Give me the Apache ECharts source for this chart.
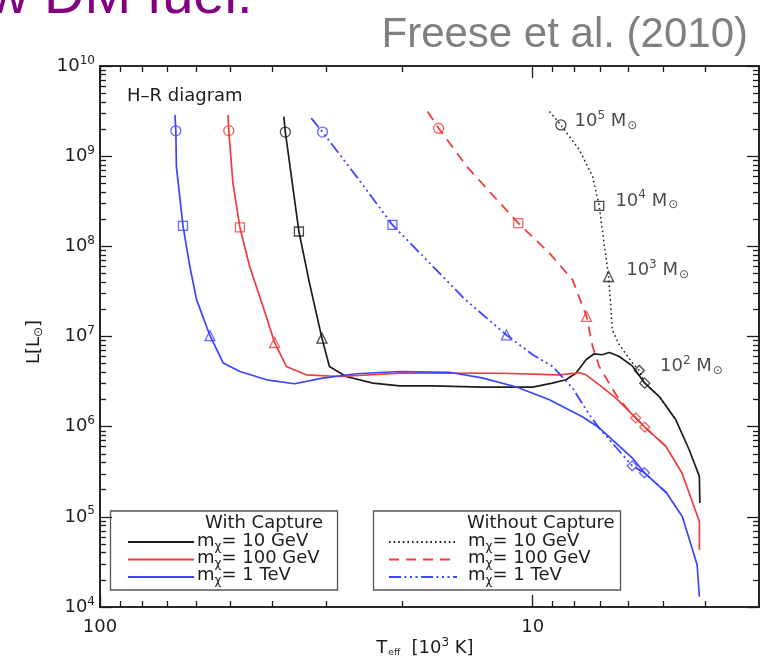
<!DOCTYPE html>
<html>
<head>
<meta charset="utf-8">
<script src="https://cdn.jsdelivr.net/npm/echarts@6/dist/echarts.min.js"></script>
<style>
  html, body { margin: 0; padding: 0; background: #fff; }
  #chart { width: 767px; height: 662px; }
</style>
</head>
<body>
<div id="chart"></div>
<script>
// Evolutionary tracks of dark stars: [Teff (10^3 K), L (L_sun)]
// Solid: with capture; broken: without capture.
const capBlack = [[37.6,2.75e9],[37.3,1.85e9],[34.7,1.46e8],[32.8,3.91e7],[30.7,9.6e6],[29.5,4.65e6],[27.0,3.60e6],[23.4,3.04e6],[20.3,2.84e6],[17.0,2.84e6],[13.1,2.75e6],[10.0,2.75e6],[9.01,3.04e6],[8.38,3.31e6],[7.94,3.93e6],[7.53,5.52e6],[7.21,6.43e6],[6.91,6.27e6],[6.65,6.65e6],[6.31,6.0e6],[5.89,4.73e6],[5.51,3.04e6],[5.10,2.16e6],[4.67,1.19e6],[4.35,5.55e5],[4.12,2.81e5],[4.11,1.42e5]];
const capRed = [[50.6,2.87e9],[50.4,1.92e9],[49.3,5.02e8],[47.5,1.62e8],[45.1,5.97e7],[42.0,2.15e7],[39.5,8.58e6],[37.1,4.65e6],[33.4,3.76e6],[27.9,3.60e6],[20.3,3.93e6],[11.9,3.91e6],[8.68,3.76e6],[7.80,3.96e6],[7.53,3.76e6],[7.02,2.91e6],[6.42,2.07e6],[5.78,1.25e6],[5.51,9.9e5],[4.92,6.03e5],[4.52,3.06e5],[4.12,8.89e4],[4.12,4.32e4]];
const capBlue = [[67.1,2.87e9],[66.8,1.91e9],[66.6,7.67e8],[64.3,1.69e8],[62.0,5.97e7],[59.8,2.55e7],[55.7,1.02e7],[51.9,5.07e6],[47.5,4.09e6],[41.2,3.31e6],[35.5,2.99e6],[30.6,3.46e6],[25.6,3.86e6],[20.3,4.09e6],[15.6,4.01e6],[13.1,3.48e6],[10.9,2.75e6],[9.15,1.99e6],[7.68,1.29e6],[7.02,9.72e5],[5.89,4.52e5],[5.52,3.08e5],[4.91,1.85e5],[4.51,1.0e5],[4.17,2.94e4],[4.12,1.30e4]];
const noCapBlack = [[9.15,3.12e9],[8.61,2.22e9],[7.80,1.17e9],[7.27,5.94e8],[7.02,2.81e8],[6.89,1.40e8],[6.68,4.63e7],[6.60,2.15e7],[6.55,1.19e7],[6.31,8.09e6],[5.88,5.07e6],[5.67,4.20e6],[5.51,3.04e6],[5.10,2.16e6],[4.67,1.19e6]];
const noCapRed = [[17.5,3.12e9],[16.5,2.04e9],[14.2,7.67e8],[11.9,3.01e8],[10.8,1.81e8],[9.15,8.41e7],[8.09,4.25e7],[7.51,1.67e7],[7.27,7.74e6],[7.02,4.65e6],[6.42,2.26e6],[5.98,1.47e6],[5.78,1.25e6],[5.51,9.9e5],[4.92,6.03e5]];
const noCapBlue = [[32.5,2.64e9],[30.6,1.85e9],[25.4,5.74e8],[21.1,1.73e8],[17.0,5.97e7],[14.3,2.55e7],[11.5,1.04e7],[10.0,6.27e6],[9.00,4.65e6],[8.09,2.68e6],[7.40,1.36e6],[7.02,9.64e5],[5.89,3.68e5],[5.52,3.08e5],[4.91,1.85e5]];

// Stellar mass reached along each track: 10^5, 10^4, 10^3, 10^2 M_sun
const massExponents = [5, 4, 3, 2];
const capBlackMarks = [[37.3,1.85e9],[34.7,1.46e8],[30.7,9.6e6],[5.51,3.04e6]];
const capRedMarks = [[50.4,1.92e9],[47.5,1.62e8],[39.5,8.58e6],[5.51,9.9e5]];
const capBlueMarks = [[66.8,1.91e9],[64.3,1.69e8],[55.7,1.02e7],[5.52,3.08e5]];
const noCapBlackMarks = [[8.61,2.22e9],[7.02,2.81e8],[6.68,4.63e7],[5.67,4.20e6]];
const noCapRedMarks = [[16.5,2.04e9],[10.8,1.81e8],[7.51,1.67e7],[5.78,1.25e6]];
const noCapBlueMarks = [[30.6,1.85e9],[21.1,1.73e8],[11.5,1.04e7],[5.89,3.68e5]];

// Axis ranges and ticks
const tempRange = [3, 100];
const lumRange = [1e4, 1e10];
const tempLabels = [10, 100];
const tempMinor = [4, 5, 6, 7, 8, 9, 20, 30, 40, 50, 60, 70, 80, 90];
const lumDecades = [4, 5, 6, 7, 8, 9, 10];
const lumMinor = [];
for (let d = 4; d < 10; d++) for (let m = 2; m <= 9; m++) lumMinor.push(m * Math.pow(10, d));

const legendEntries = ['10 GeV', '100 GeV', '1 TeV'];

const FONT = 'DejaVu Sans';
const INK = '#1c1c1c';
const RED = '#f03c3c';
const BLUE = '#3c44ff';
const lg = Math.log10;

const DOTTED = [1.6, 3];
const DASHED = [10, 7];
const DASHDOT3 = [12, 3.5, 2, 3.5, 2, 3.5, 2, 3.5];
const stageSymbols = ['circle', 'rect', 'triangle', 'diamond'];
const MAJOR_LEN = 12, MINOR_LEN = 6;

const chart = echarts.init(document.getElementById('chart'), null, { renderer: 'canvas' });

// Frame axes in log10 space: frame lines, decade labels and the logarithmic tick marks.
function tempFrameAxis(position, values, len, withLabels) {
  return {
    type: 'value', gridIndex: 0, position,
    min: lg(tempRange[0]), max: lg(tempRange[1]), inverse: true,
    axisLine: { show: true, onZero: false, lineStyle: { color: INK, width: 1.6 } },
    axisTick: { show: true, inside: true, length: len, customValues: values.map(lg),
                lineStyle: { color: INK, width: 1.3 } },
    axisLabel: withLabels ? {
      show: true, customValues: tempLabels.map(lg), margin: 11,
      formatter: v => String(Math.round(Math.pow(10, v))),
      color: INK, fontFamily: FONT, fontSize: 18
    } : { show: false },
    splitLine: { show: false }
  };
}
function lumFrameAxis(position, values, len, withLabels) {
  return {
    type: 'value', gridIndex: 0, position,
    min: lg(lumRange[0]), max: lg(lumRange[1]),
    axisLine: { show: true, onZero: false, lineStyle: { color: INK, width: 1.6 } },
    axisTick: { show: true, inside: true, length: len, customValues: values.map(lg),
                lineStyle: { color: INK, width: 1.3 } },
    axisLabel: withLabels ? {
      show: true, customValues: lumDecades, margin: 5,
      formatter: v => '{b|10}{e|' + Math.round(v) + '}',
      rich: {
        b: { fontFamily: FONT, fontSize: 18, color: INK },
        e: { fontFamily: FONT, fontSize: 12, color: INK, padding: [0, 0, 11, 0] }
      }
    } : { show: false },
    splitLine: { show: false }
  };
}

function track(data, color, type, width) {
  return {
    type: 'line', xAxisIndex: 0, yAxisIndex: 0, data,
    showSymbol: false, symbol: 'none', smooth: false, silent: true,
    lineStyle: { color, width, type }, z: 3, animation: false
  };
}
function marks(data, color) {
  return {
    type: 'scatter', xAxisIndex: 0, yAxisIndex: 0, silent: true, animation: false, z: 4,
    data: data.map((p, i) => ({ value: p, symbol: stageSymbols[i],
                                symbolSize: stageSymbols[i] === 'rect' ? 9 : 10 })),
    itemStyle: { color: 'rgba(0,0,0,0)', borderColor: color, borderWidth: 1.3 }
  };
}

// Mass labels beside the 10 GeV no-capture track
const massLabelDistance = [8, 11, 12, 15];
const massLabelShift = [-4, -5, -6, -4];
const massRich = {
  n: { fontFamily: FONT, fontSize: 18, color: INK },
  e: { fontFamily: FONT, fontSize: 12, color: INK, padding: [0, 0, 11, 0] },
  s: { fontFamily: FONT, fontSize: 12, color: INK, padding: [9, 0, 0, 1] }
};
const labelledMarks = marks(noCapBlackMarks, INK);
labelledMarks.data = labelledMarks.data.map((d, i) => Object.assign(d, {
  label: {
    show: true, position: 'right', distance: massLabelDistance[i], offset: [0, massLabelShift[i]],
    formatter: '{n|10}{e|' + massExponents[i] + '}{n| M}{s|⊙}', rich: massRich
  }
}));

const chiRich = {
  t: { fontFamily: FONT, fontSize: 18, fill: INK },
  c: { fontFamily: FONT, fontSize: 12, fill: INK, padding: [11, 0, 0, 0] }
};
function legendRow(x, y, label) {
  return { type: 'text', x, y, style: { text: '{t|m}{c|χ}{t|= ' + label + '}', rich: chiRich,
           verticalAlign: 'middle', align: 'left' } };
}
function legendLine(x1, x2, y, color, dash) {
  const style = { stroke: color, lineWidth: 1.8 };
  if (dash) style.lineDash = dash;
  return { type: 'line', shape: { x1, y1: y, x2, y2: y }, style };
}

const graphics = [
  { type: 'text', x: -12, y: -2, style: { text: 'w DM fuel.', fontFamily: 'Liberation Sans',
      fontSize: 56, fill: '#800080', align: 'left', verticalAlign: 'middle' } },
  { type: 'text', x: 748, y: 35, style: { text: 'Freese et al. (2010)', fontFamily: 'Liberation Sans',
      fontSize: 42, fill: '#808080', align: 'right', verticalAlign: 'middle' } },
  { type: 'text', x: 127, y: 96, style: { text: 'H\u2013R diagram', fontFamily: FONT, fontSize: 18,
      fill: INK, align: 'left', verticalAlign: 'middle' } },
  // axis titles
  { type: 'text', x: 425, y: 648, style: {
      text: '{a|T}{s|eff}{a|  [10}{e|3}{a| K]}',
      rich: {
        a: { fontFamily: FONT, fontSize: 18, fill: INK },
        s: { fontFamily: FONT, fontSize: 9, fill: INK, padding: [9, 0, 0, 1] },
        e: { fontFamily: FONT, fontSize: 12, fill: INK, padding: [0, 0, 11, 0] }
      }, align: 'center', verticalAlign: 'middle' } },
  { type: 'text', x: 34, y: 342, rotation: Math.PI / 2, style: {
      text: '{a|L[L}{s|⊙}{a|]}',
      rich: {
        a: { fontFamily: FONT, fontSize: 18, fill: INK },
        s: { fontFamily: FONT, fontSize: 12, fill: INK, padding: [9, 0, 0, 0] }
      }, align: 'center', verticalAlign: 'middle' } },
  // legend: with capture
  { type: 'rect', shape: { x: 110.5, y: 511, width: 227, height: 79 },
    style: { fill: 'none', stroke: '#555', lineWidth: 1.3 } },
  { type: 'text', x: 205, y: 523, style: { text: 'With Capture', fontFamily: FONT, fontSize: 18,
      fill: INK, align: 'left', verticalAlign: 'middle' } },
  legendLine(128, 194, 542, INK), legendLine(128, 194, 559.5, RED), legendLine(128, 194, 577, BLUE),
  legendRow(197, 541, legendEntries[0]), legendRow(197, 558.5, legendEntries[1]), legendRow(197, 575, legendEntries[2]),
  // legend: without capture
  { type: 'rect', shape: { x: 373.5, y: 511, width: 247, height: 79 },
    style: { fill: 'none', stroke: '#555', lineWidth: 1.3 } },
  { type: 'text', x: 467, y: 523, style: { text: 'Without Capture', fontFamily: FONT, fontSize: 18,
      fill: INK, align: 'left', verticalAlign: 'middle' } },
  legendLine(389, 457, 542, INK, DOTTED), legendLine(389, 457, 559.5, RED, DASHED), legendLine(389, 457, 577, BLUE, DASHDOT3),
  legendRow(468, 541, legendEntries[0]), legendRow(468, 558.5, legendEntries[1]), legendRow(468, 575, legendEntries[2])
];

chart.setOption({
  animation: false,
  backgroundColor: '#fff',
  grid: { left: 100, right: 8, top: 66, bottom: 55 },
  xAxis: [
    { type: 'log', gridIndex: 0, logBase: 10, min: tempRange[0], max: tempRange[1], inverse: true,
      axisLine: { show: false }, axisTick: { show: false }, axisLabel: { show: false }, splitLine: { show: false } },
    tempFrameAxis('bottom', tempLabels, MAJOR_LEN, true),
    tempFrameAxis('bottom', tempMinor, MINOR_LEN, false),
    tempFrameAxis('top', tempLabels, MAJOR_LEN, false),
    tempFrameAxis('top', tempMinor, MINOR_LEN, false)
  ],
  yAxis: [
    { type: 'log', gridIndex: 0, logBase: 10, min: lumRange[0], max: lumRange[1],
      axisLine: { show: false }, axisTick: { show: false }, axisLabel: { show: false }, splitLine: { show: false } },
    lumFrameAxis('left', lumDecades.map(e => Math.pow(10, e)), MAJOR_LEN, true),
    lumFrameAxis('left', lumMinor, MINOR_LEN, false),
    lumFrameAxis('right', lumDecades.map(e => Math.pow(10, e)), MAJOR_LEN, false),
    lumFrameAxis('right', lumMinor, MINOR_LEN, false)
  ],
  series: [
    track(capBlack, INK, 'solid', 1.7),
    track(capRed, RED, 'solid', 1.7),
    track(capBlue, BLUE, 'solid', 1.7),
    track(noCapBlack, INK, DOTTED, 1.5),
    track(noCapRed, RED, DASHED, 1.8),
    track(noCapBlue, BLUE, DASHDOT3, 1.8),
    marks(capBlackMarks, INK),
    marks(capRedMarks, RED),
    marks(capBlueMarks, BLUE),
    labelledMarks,
    marks(noCapRedMarks, RED),
    marks(noCapBlueMarks, BLUE)
  ],
  graphic: graphics
});
</script>
</body>
</html>
